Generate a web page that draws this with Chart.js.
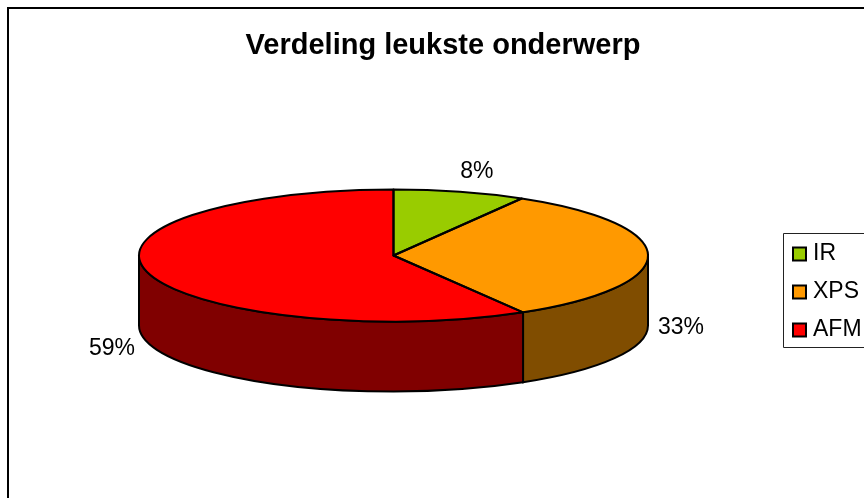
<!DOCTYPE html>
<html>
<head>
<meta charset="utf-8">
<title>Verdeling leukste onderwerp</title>
<script src="https://cdn.jsdelivr.net/npm/chart.js@4"></script>
<style>
    html, body { margin: 0; padding: 0; background: #fff; overflow: hidden; }
    #frame { position: absolute; left: 7px; top: 7px; right: 0; bottom: 0; border-left: 2px solid #000; border-top: 2px solid #000; }
    #myChart { position: absolute; left: 0; top: 0; }
</style>
</head>
<body>
<div id="frame"></div>
<canvas id="myChart" width="864" height="498"></canvas>
<script>
const chartTitle = 'Verdeling leukste onderwerp';
const categories = ['IR', 'XPS', 'AFM'];
const values = [8.4, 33.1, 58.5];
const colors = ['#99CC00', '#FF9900', '#FF0000'];
const sideColors = ['#4D6600', '#804D00', '#800000'];

// Chart.js has no 3D pie, so the arcs get squashed with a canvas transform
const pie = { x: 393.5, y: 255.5, rx: 254.5, ry: 66, depth: 70 };
const labelOffsets = [[17, -20], [33, 72], [-36, 76]];
const fontFamily = '"Liberation Sans", Arial, sans-serif';
const legendFontSize = 23;
const legendPadding = 15;

const pie3d = {
    id: 'pie3d',
    afterLayout(chart) {
        // move title and legend to where the original has them
        chart.titleBlock.left = 22;
        const legend = chart.legend;
        const h = legend.bottom - legend.top;
        legend.left = 782.5;
        legend.right = 864;
        legend.top = 292 - h / 2;
        legend.bottom = 292 + h / 2;
    },
    beforeDatasetDraw(chart, args) {
        const ctx = chart.ctx;
        const arcs = args.meta.data;
        ctx.save();
        ctx.lineWidth = 2;
        ctx.strokeStyle = '#000';
        arcs.forEach((arc, i) => {
            const a = Math.max(arc.startAngle, 0);
            const b = Math.min(arc.endAngle, Math.PI);
            if (a >= b) return;
            ctx.beginPath();
            ctx.ellipse(pie.x, pie.y, pie.rx, pie.ry, 0, a, b);
            ctx.ellipse(pie.x, pie.y + pie.depth, pie.rx, pie.ry, 0, b, a, true);
            ctx.closePath();
            ctx.fillStyle = sideColors[i];
            ctx.fill();
            ctx.stroke();
        });
        ctx.restore();

        const first = arcs[0];
        ctx.save();
        ctx.translate(pie.x, pie.y);
        ctx.scale(pie.rx / first.outerRadius, pie.ry / first.outerRadius);
        ctx.translate(-first.x, -first.y);
    },
    afterDatasetDraw(chart, args) {
        const ctx = chart.ctx;
        ctx.restore();
        const arcs = args.meta.data;
        const total = values.reduce((sum, v) => sum + v, 0);

        // outlines are stroked here so the line width is not squashed too
        ctx.save();
        ctx.lineWidth = 2;
        ctx.strokeStyle = '#000';
        ctx.lineJoin = 'round';
        arcs.forEach(arc => {
            ctx.beginPath();
            ctx.moveTo(pie.x, pie.y);
            ctx.ellipse(pie.x, pie.y, pie.rx, pie.ry, 0, arc.startAngle, arc.endAngle);
            ctx.closePath();
            ctx.stroke();
        });

        // percentage labels, placed from the middle of each slice
        ctx.fillStyle = '#000';
        ctx.font = '23px ' + fontFamily;
        ctx.textAlign = 'center';
        ctx.textBaseline = 'middle';
        arcs.forEach((arc, i) => {
            const mid = (arc.startAngle + arc.endAngle) / 2;
            const x = pie.x + pie.rx * Math.cos(mid) + labelOffsets[i][0];
            const y = pie.y + pie.ry * Math.sin(mid) + labelOffsets[i][1];
            ctx.fillText(Math.round(values[i] / total * 100) + '%', x, y);
        });
        ctx.restore();
    },
    afterDraw(chart) {
        // legend frame, open at the right edge of the picture
        const ctx = chart.ctx;
        const legend = chart.legend;
        ctx.save();
        ctx.strokeStyle = '#222';
        ctx.lineWidth = 1;
        ctx.beginPath();
        ctx.moveTo(864, 233.5);
        ctx.lineTo(783.5, 233.5);
        ctx.lineTo(783.5, 347.5);
        ctx.lineTo(864, 347.5);
        ctx.stroke();

        // the swatches sit closer to the text than the legend allows, so they are drawn here
        const colHeight = legend.columnSizes[0].height;
        const firstY = (legend.top + legendPadding + legend.bottom - colHeight) / 2 + legendFontSize / 2;
        ctx.strokeStyle = '#000';
        ctx.lineWidth = 2;
        legend.legendItems.forEach((item, i) => {
            const y = firstY + i * (legendFontSize + legendPadding);
            ctx.fillStyle = colors[item.index];
            ctx.fillRect(793, y - 6.5, 13, 13);
            ctx.strokeRect(793, y - 6.5, 13, 13);
        });
        ctx.restore();
    }
};

new Chart(document.getElementById('myChart'), {
    type: 'pie',
    data: {
        labels: categories,
        datasets: [{
            data: values,
            backgroundColor: colors,
            borderWidth: 0,
            clip: false
        }]
    },
    options: {
        responsive: false,
        animation: false,
        plugins: {
            title: {
                display: true,
                text: chartTitle,
                color: '#000',
                padding: { top: 29, bottom: 10 },
                font: { family: fontFamily, size: 29, weight: 'bold' }
            },
            legend: {
                position: 'right',
                labels: {
                    color: '#000',
                    boxWidth: 4,
                    boxHeight: 13,
                    padding: legendPadding,
                    font: { family: fontFamily, size: legendFontSize },
                    generateLabels(chart) {
                        return categories.map((name, i) => ({
                            text: name,
                            fillStyle: 'transparent',
                            strokeStyle: 'transparent',
                            lineWidth: 0,
                            index: i
                        }));
                    }
                }
            },
            tooltip: { enabled: false }
        }
    },
    plugins: [pie3d]
});
</script>
</body>
</html>
